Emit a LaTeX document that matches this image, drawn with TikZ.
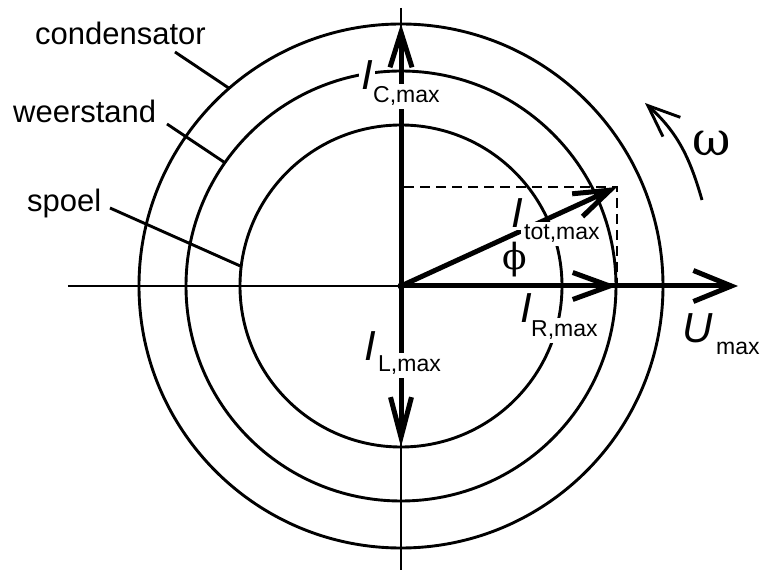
\documentclass[tikz,border=0pt]{standalone}
\usepackage{fontspec}
\setmainfont{Liberation Sans}
\newfontfamily\greekfont{DejaVu Serif}
\usetikzlibrary{arrows.meta}
\begin{document}
\begin{tikzpicture}[x=1pt,y=1pt,
  thinline/.style={line width=2.9pt},
  thickline/.style={line width=5pt},
  dashline/.style={line width=2.2pt, dash pattern=on 10pt off 6pt},
  ring/.style={circle, draw, line width=2.9pt, inner sep=0pt, outer sep=0pt},
  lbl/.style={font=\fontsize{31}{31}\selectfont, inner sep=0pt, anchor=base west},
  bigI/.style={font=\fontsize{42}{42}\selectfont\itshape, fill=white, inner sep=2.5pt},
  subs/.style={font=\fontsize{23}{23}\selectfont, fill=white, inner sep=3pt, anchor=base west},
  greek/.style={inner sep=0pt},
  ]
\useasboundingbox (-401,-286) rectangle (367,286);
% rings
\node[ring, minimum size=322pt] (spoel) at (0,0) {};
\node[ring, minimum size=430pt] (weer) at (0,0) {};
\node[ring, minimum size=524pt] (cond) at (0,0) {};
% coordinates
\coordinate (O) at (0,0);
\coordinate (xl) at (-333,0);
\coordinate (xr) at (337,0);
\coordinate (yt) at (0,278);
\coordinate (yb) at (0,-284);
\coordinate (T) at (216,99);
\coordinate (Ty) at (3,99);
\coordinate (R) at (216,0);
% axes
\draw[thinline] (xl) -- (O);
\draw[thinline] (yt) -- (yb);
% vectors
\draw[thickline, -{Straight Barb[length=38pt,width=31pt]}] (O) -- (xr);
\draw[thickline, -{Straight Barb[length=37pt,width=27pt]}] (O) -- (R);
\draw[thickline, -{Straight Barb[length=35pt,width=22pt]}] (O) -- (cond.north);
\draw[thickline, -{Straight Barb[length=40pt,width=21pt]}] (O) -- (spoel.south);
\draw[thickline, -{Straight Barb[length=36pt,width=25pt]}] (O) -- (T);
\fill (O) circle[radius=3.5];
% dashed projections
\draw[dashline] (Ty) -- (T) -- (R);
% omega arrow
\coordinate (w1) at (301,86);
\coordinate (w2) at (244,183);
\draw[thinline, -{Straight Barb[length=32pt,width=26pt]}] (w1) to[out=106,in=-42] (w2);
% left labels and leaders
\node[lbl] (tcond) at (-366,241) {condensator};
\node[lbl] (tweer) at (-388,163) {weerstand};
\node[lbl] (tspoel) at (-374,74) {spoel};
\coordinate (lc) at (-226,234);
\coordinate (lw) at (-234,162);
\coordinate (ls) at (-291,78);
\draw[thinline] (lc) -- (cond.131.1);
\draw[thinline] (lw) -- (weer.145.4);
\draw[thinline] (ls) -- (spoel.173.3);
% vector labels
\node[bigI] (IC) at (-34,211) {I};
\node[subs] (ICs) at (-31,183) {C,max};
\node[bigI] (IL) at (-31,-60) {I};
\node[subs] (ILs) at (-26,-86) {L,max};
\node[bigI] (IT) at (116,73) {I};
\node[subs] (ITs) at (120,46) {tot,max};
\node[bigI] (IR) at (125,-22) {I};
\node[subs] (IRs) at (127,-51) {R,max};
\node[bigI, fill=none] (U) at (297,-42) {U};
\node[subs, fill=none] (Us) at (312,-69) {max};
\node[greek, font=\fontsize{36}{36}\greekfont] (phi) at (114,26) {ϕ};
\node[greek, font=\fontsize{47}{47}\greekfont] (omega) at (311,143) {ω};
\end{tikzpicture}
\end{document}
